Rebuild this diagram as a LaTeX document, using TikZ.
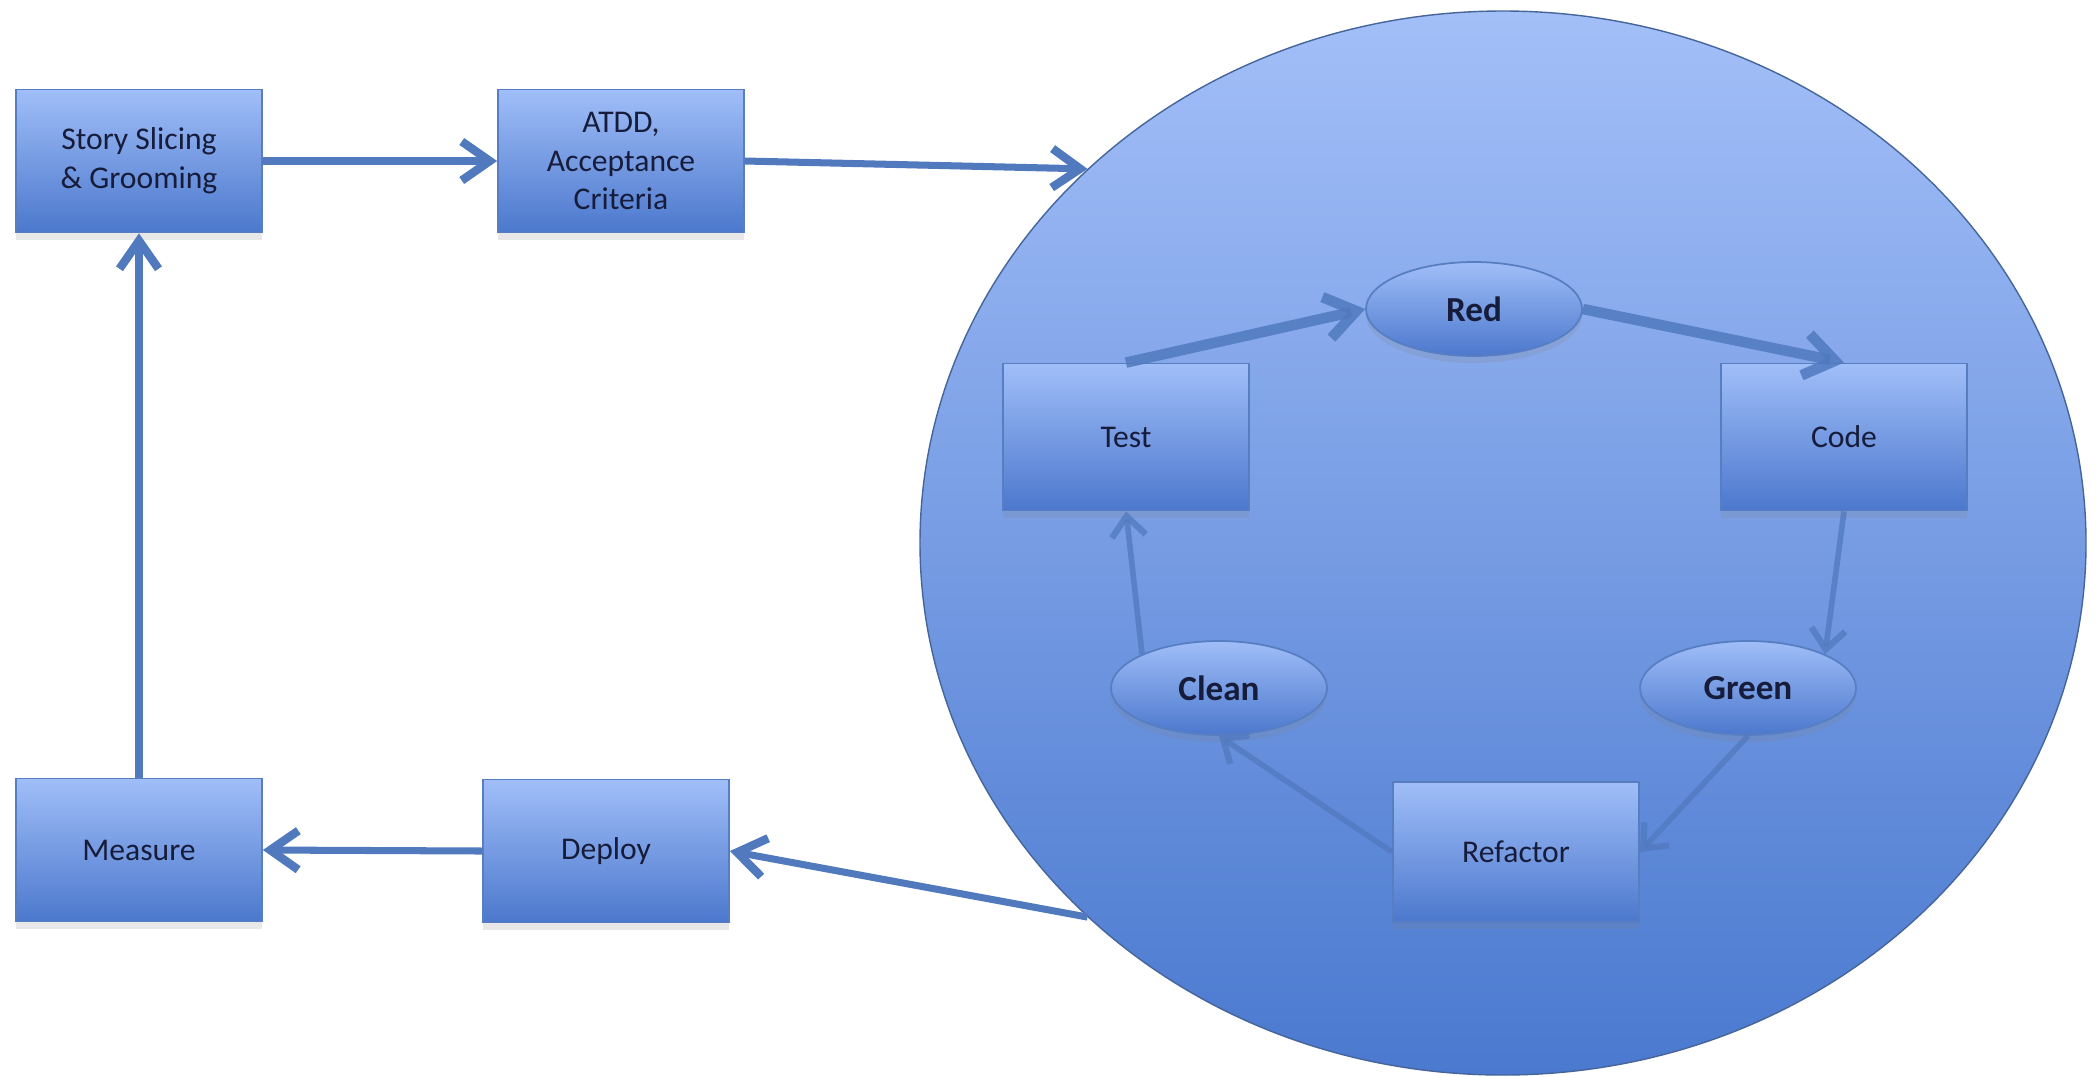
\documentclass[tikz,border=0pt]{standalone}
\usepackage{fontspec}
\setmainfont{Carlito}
\usepackage{tikz}
\usetikzlibrary{arrows.meta,shapes,shapes.geometric,shadows,positioning,calc}
\definecolor{flowblue}{RGB}{80,121,190}
\definecolor{boxtop}{RGB}{160,190,248}
\definecolor{boxbottom}{RGB}{76,120,205}
\definecolor{boxedge}{RGB}{88,126,194}
\definecolor{looptop}{RGB}{163,191,248}
\definecolor{loopbottom}{RGB}{74,121,207}
\definecolor{labelink}{RGB}{22,28,58}

\begin{document}
\begin{tikzpicture}[every node/.style={font=\fontsize{9}{11}\selectfont,text=labelink},
  stagebox/.style={draw=boxedge,line width=0.5pt,rectangle,minimum width=2.46cm,minimum height=1.43cm,align=center,
    top color=boxtop,bottom color=boxbottom,drop shadow={shadow xshift=0pt,shadow yshift=-2pt,opacity=0.18}},
  phase/.style={draw=boxedge,line width=0.5pt,ellipse,minimum width=2.16cm,minimum height=0.94cm,inner sep=0pt,
    top color=boxtop,bottom color=boxbottom,font=\fontsize{10}{12}\selectfont\bfseries,
    drop shadow={shadow xshift=0pt,shadow yshift=-2pt,opacity=0.18}},
  flow/.style={-{Straight Barb[length=2.8mm,width=3.9mm,line width=2.4pt]},line width=2pt,color=flowblue},
  bigflow/.style={-{Straight Barb[length=3mm,width=4.2mm,line width=3pt]},line width=3pt,color=flowblue,draw opacity=0.85},
  thinflow/.style={-{Straight Barb[length=2mm,width=3.4mm,line width=1.8pt]},line width=1.6pt,color=flowblue,draw opacity=0.75}]
\useasboundingbox (0,0) rectangle (20.96,-10.76);
% outer pipeline
\node[stagebox] (story) at (1.39,-1.61) {Story Slicing\\\& Grooming};
\node[stagebox] (atdd) at (6.21,-1.61) {ATDD,\\Acceptance\\Criteria};
\node[stagebox] (measure) at (1.39,-8.50) {Measure};
\node[stagebox] (deploy) at (6.06,-8.51) {Deploy};
\node[ellipse,draw=boxedge!80!black,line width=0.4pt,minimum width=11.66cm,minimum height=10.64cm,inner sep=0pt,
  top color=looptop,bottom color=loopbottom] (cycle) at (15.03,-5.43) {};
% inner loop
\node[stagebox,minimum height=1.47cm] (test) at (11.26,-4.37) {Test};
\node[stagebox,minimum height=1.47cm] (code) at (18.44,-4.37) {Code};
\node[stagebox,minimum height=1.40cm] (refactor) at (15.16,-8.52) {Refactor};
\node[phase] (red) at (14.74,-3.09) {Red};
\node[phase] (clean) at (12.19,-6.88) {Clean};
\node[phase] (green) at (17.48,-6.88) {Green};
\path[flow] (story.east) edge (atdd.west);
\path[flow] (atdd.east) edge (cycle.138);
\path[flow] (cycle.222) edge (deploy.east);
\path[flow] (deploy.west) edge (measure.east);
\path[flow] (measure.north) edge (story.south);
\path[bigflow] (test.north) edge (red.west);
\path[bigflow] (red.east) edge (code.north);
\path[thinflow] (code.south) edge (green.north east);
\path[thinflow] (green.south) edge (refactor.east);
\path[thinflow] (refactor.west) edge (clean.south);
\path[thinflow] (clean.north west) edge (test.south);
\end{tikzpicture}
\end{document}
